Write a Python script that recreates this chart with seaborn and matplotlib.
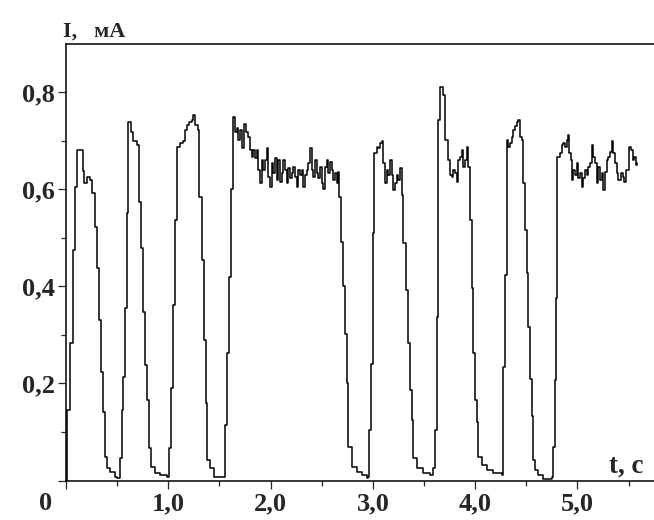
import numpy as np
import pandas as pd
import seaborn as sns
import matplotlib.pyplot as plt

# current trace: time (s) and current (mA)
t_s = [0.000, 0.005, 0.013, 0.039, 0.065, 0.088, 0.111, 0.163, 0.176, 0.202,
       0.235, 0.254, 0.280, 0.300, 0.326, 0.339, 0.358, 0.378, 0.398, 0.430,
       0.479, 0.502,
       0.528, 0.544, 0.560, 0.577, 0.593, 0.609, 0.632, 0.658, 0.697, 0.717,
       0.733, 0.749, 0.775, 0.795, 0.808, 0.828, 0.870, 0.919, 0.991,
       1.004, 1.023, 1.043, 1.065, 1.082, 1.114, 1.140, 1.163, 1.180, 1.206,
       1.228, 1.245, 1.261, 1.287, 1.303, 1.326, 1.349, 1.365, 1.382, 1.408,
       1.447, 1.538,
       1.551, 1.571, 1.590, 1.610, 1.629,
       1.652, 1.668, 1.685, 1.701, 1.717, 1.740, 1.760, 1.782, 1.799, 1.815,
       1.831, 1.848, 1.864, 1.880, 1.896, 1.913, 1.929, 1.945, 1.962, 1.978,
       1.994, 2.010, 2.027, 2.043, 2.059, 2.076, 2.092, 2.108, 2.124, 2.141,
       2.157, 2.173, 2.190, 2.206, 2.222, 2.239, 2.255, 2.271, 2.287, 2.304,
       2.320, 2.336, 2.353, 2.369, 2.385, 2.401, 2.418, 2.434, 2.450, 2.467,
       2.483, 2.499, 2.515, 2.532, 2.548, 2.564, 2.581, 2.597, 2.613, 2.630,
       2.646, 2.662, 2.672, 2.685, 2.704, 2.727, 2.744, 2.760, 2.792, 2.841,
       2.890, 2.939, 2.955,
       2.965, 2.978, 2.998, 3.011,
       3.037, 3.053, 3.069, 3.086, 3.102, 3.118, 3.135, 3.151, 3.167, 3.184,
       3.200, 3.216, 3.232, 3.249, 3.265, 3.281, 3.297, 3.320, 3.340, 3.363,
       3.379, 3.395, 3.428, 3.493, 3.558, 3.591,
       3.607, 3.623, 3.640, 3.656, 3.672, 3.688, 3.705, 3.721, 3.737, 3.754,
       3.770, 3.786, 3.802, 3.819, 3.835, 3.851, 3.868, 3.884, 3.900, 3.917,
       3.933, 3.949, 3.965, 3.982, 3.998, 4.014, 4.031, 4.063, 4.112, 4.177,
       4.259,
       4.275, 4.291, 4.308, 4.324, 4.340, 4.357, 4.373, 4.389, 4.405, 4.422,
       4.438, 4.454, 4.470, 4.487, 4.503, 4.519, 4.536, 4.552, 4.568, 4.585,
       4.617, 4.666, 4.731, 4.748,
       4.764, 4.780, 4.790, 4.803, 4.829, 4.845, 4.862, 4.878, 4.894, 4.910,
       4.920, 4.933, 4.943, 4.959, 4.976, 4.992, 5.008, 5.024, 5.041, 5.057,
       5.073, 5.090, 5.106, 5.122, 5.138, 5.155, 5.171, 5.187, 5.204, 5.220,
       5.236, 5.253, 5.269, 5.285, 5.301, 5.318, 5.334, 5.350, 5.367, 5.383,
       5.399, 5.425, 5.442, 5.458, 5.474, 5.490, 5.507, 5.523, 5.539, 5.556,
       5.572, 5.578]

i_ma = [0.000, 0.056, 0.145, 0.283, 0.475, 0.606, 0.681, 0.639, 0.613, 0.626,
        0.620, 0.592, 0.523, 0.438, 0.331, 0.224, 0.142, 0.049, 0.025, 0.018,
        0.008, 0.005,
        0.046, 0.145, 0.214, 0.355, 0.551, 0.740, 0.719, 0.699, 0.692, 0.575,
        0.479, 0.348, 0.238, 0.166, 0.066, 0.028, 0.015, 0.011, 0.008,
        0.066, 0.190, 0.362, 0.537, 0.688, 0.695, 0.699, 0.723, 0.733, 0.740,
        0.743, 0.753, 0.733, 0.723, 0.585, 0.454, 0.289, 0.159, 0.043, 0.025,
        0.008, 0.008,
        0.114, 0.262, 0.420, 0.602, 0.750,
        0.719, 0.726, 0.702, 0.723, 0.685, 0.736, 0.719, 0.709, 0.681, 0.668,
        0.681, 0.664, 0.681, 0.640, 0.613, 0.661, 0.640, 0.661, 0.685, 0.626,
        0.606, 0.654, 0.633, 0.664, 0.620, 0.661, 0.616, 0.633, 0.661, 0.640,
        0.613, 0.644, 0.623, 0.633, 0.647, 0.626, 0.606, 0.640, 0.630, 0.640,
        0.606, 0.630, 0.640, 0.654, 0.685, 0.640, 0.626, 0.661, 0.633, 0.623,
        0.647, 0.613, 0.602, 0.647, 0.661, 0.633, 0.657, 0.640, 0.620, 0.633,
        0.613, 0.637, 0.585, 0.492, 0.400, 0.303, 0.200, 0.070, 0.028, 0.018,
        0.011, 0.005, 0.008,
        0.104, 0.241, 0.510, 0.675,
        0.688, 0.685, 0.695, 0.699, 0.654, 0.613, 0.640, 0.630, 0.661, 0.630,
        0.599, 0.613, 0.630, 0.620, 0.644, 0.589, 0.489, 0.393, 0.283, 0.187,
        0.125, 0.046, 0.025, 0.015, 0.011, 0.025,
        0.104, 0.338, 0.743, 0.812, 0.812, 0.795, 0.702, 0.702, 0.661, 0.630,
        0.626, 0.640, 0.633, 0.616, 0.661, 0.668, 0.681, 0.647, 0.661, 0.688,
        0.647, 0.537, 0.396, 0.262, 0.166, 0.121, 0.049, 0.032, 0.021, 0.015,
        0.011,
        0.235, 0.424, 0.702, 0.688, 0.695, 0.709, 0.723, 0.730, 0.740, 0.743,
        0.709, 0.702, 0.613, 0.516, 0.427, 0.317, 0.210, 0.132, 0.042, 0.022,
        0.011, 0.004, 0.004, 0.008,
        0.070, 0.207, 0.376, 0.668, 0.675, 0.692, 0.695, 0.688, 0.702, 0.712,
        0.675, 0.661, 0.620, 0.640, 0.630, 0.654, 0.623, 0.633, 0.606, 0.623,
        0.640, 0.630, 0.647, 0.654, 0.692, 0.668, 0.654, 0.613, 0.647, 0.620,
        0.633, 0.599, 0.637, 0.661, 0.668, 0.678, 0.699, 0.675, 0.654, 0.633,
        0.620, 0.633, 0.626, 0.616, 0.640, 0.640, 0.688, 0.681, 0.661, 0.668,
        0.650, 0.654]

x_ticks = [0, 1, 2, 3, 4, 5]
x_labels = ['', '1,0', '2,0', '3,0', '4,0', '5,0']
y_ticks = [0, 0.2, 0.4, 0.6, 0.8]
y_labels = ['', '0,2', '0,4', '0,6', '0,8']

df = pd.DataFrame({'t': t_s, 'I': i_ma})

sns.set_style('ticks')
plt.rcParams['font.family'] = ['Liberation Serif', 'DejaVu Serif']
plt.rcParams['font.weight'] = 'bold'

fig = plt.figure(figsize=(6.54, 5.2), dpi=100)
ax = fig.add_axes([66/654, 39.5/520, 588/654, 437/520])

sns.lineplot(data=df, x='t', y='I', ax=ax, color='black', linewidth=1.1,
             drawstyle='steps-post', estimator=None, sort=False)

ax.set_xlim(0, 5.748)
ax.set_ylim(0, 0.901)
ax.set_xticks(x_ticks)
ax.set_xticklabels(x_labels)
ax.set_yticks(y_ticks)
ax.set_yticklabels(y_labels)
ax.set_xticks(np.arange(0.5, 5.6, 1.0), minor=True)
ax.set_yticks([0.1, 0.3, 0.5, 0.7], minor=True)
ax.tick_params(which='major', length=6, width=0.9, direction='out', labelsize=19)
ax.tick_params(which='minor', length=3.6, width=0.9, direction='out')
ax.tick_params(axis='x', pad=2.5)
ax.tick_params(axis='y', pad=2)
for lab in ax.get_xticklabels() + ax.get_yticklabels():
    lab.set_fontweight('bold')

ax.set_xlabel('')
ax.set_ylabel('')
sns.despine(ax=ax, top=False, right=True)
for s in ['left', 'bottom', 'top']:
    ax.spines[s].set_linewidth(1.1)
    ax.spines[s].set_color('black')

fig.text(63/654, 1 - 37/520, 'I,   мА', fontsize=16, fontweight='bold',
         ha='left', va='baseline')
fig.text(626/654, 1 - 473/520, 't, c', fontsize=19.5, fontweight='bold',
         ha='center', va='baseline')
fig.text(46/654, 1 - 503/520, '0', fontsize=19, fontweight='bold',
         ha='center', va='center')

fig.savefig('out.png', dpi=100)
